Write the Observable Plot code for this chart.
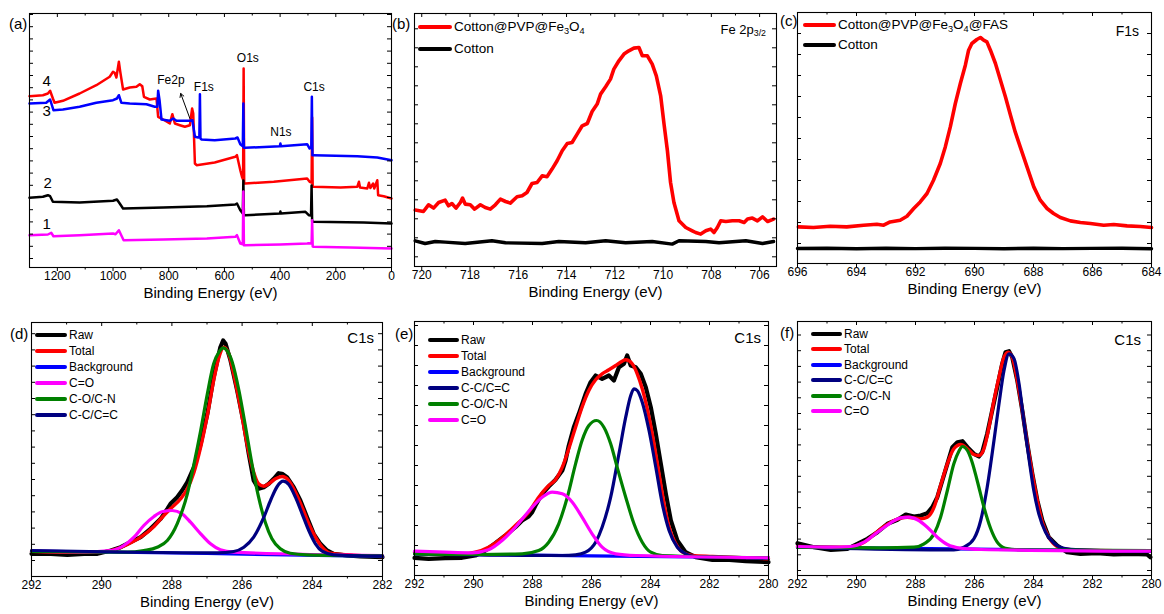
<!DOCTYPE html>
<html><head><meta charset="utf-8">
<script src="https://cdn.jsdelivr.net/npm/d3@7"></script>
<script src="https://cdn.jsdelivr.net/npm/@observablehq/plot@0.6"></script>
<style>
body{margin:0;background:#fff;}
#root{position:relative;width:1164px;height:614px;overflow:hidden;background:#fff;font-family:"Liberation Sans",Arial,Helvetica,sans-serif;color:#000;}
.lab{position:absolute;white-space:nowrap;line-height:1;transform:translateY(-50%);}
.sw{position:absolute;border-radius:2px;}
sub{font-size:0.68em;vertical-align:-0.3em;line-height:0;}
</style></head><body><div id="root"></div>
<script>
// ---------------- DATA ----------------
// (a) survey spectra: [binding energy eV, intensity a.u.]
const survey1 = [[1300,32.3],[1234,33],[1222,34.7],[1214,31.3],[1120,32.3],[1000,34],[991,33.3],[979,37.3],[962,27.3],[820,28],[663,29],[561,30.7],[555,32.3],[543,24],[534,23.3],[532,76],[530,22.3],[525,22.3],[400,23],[303,24],[297,24.3],[287,24],[285,47.3],[283,21],[279,20.7],[150,20],[0,19]];
const survey2 = [[1300,69.7],[1252,70.7],[1234,72.3],[1226,71.3],[1216,65.7],[1120,65],[1000,66.7],[986,68],[976,64],[964,59],[820,60],[663,61.3],[561,63],[555,64],[543,57.3],[534,54],[532,87],[530,52.3],[525,52.3],[401,54],[399,56],[397,54],[309,55.7],[297,52.3],[289,52],[287,82],[285,46],[279,45.7],[100,45],[0,44]];
const survey3 = [[1300,164],[1240,164.7],[1226,168],[1214,157.3],[1180,158],[1120,160.7],[1060,164.7],[1000,167.3],[986,169],[979,172.3],[970,164.7],[940,164],[880,163.3],[850,160.7],[841,160.7],[838,176.7],[833,167.3],[826,148],[796,146.7],[784,149],[772,146.7],[724,146.7],[715,147.3],[706,130.7],[694,130],[690,131],[688,173.3],[686,129],[682,128],[635,127.3],[561,129],[553,130],[543,123.3],[534,121.3],[532,164],[530,119.7],[525,119.7],[401,121.3],[399,124],[397,121.3],[303,123.3],[294,119],[288,120],[286,170.7],[284,112.3],[279,112.3],[123,111.3],[51,110],[0,107.3]];
const survey4 = [[1300,171.3],[1252,172.3],[1234,174],[1226,176.7],[1216,169],[1210,164.7],[1180,166.7],[1120,174],[1060,182.3],[1012,190.7],[1000,195.7],[994,194.7],[988,190],[979,205.7],[974,195.7],[964,178],[940,180],[916,180.7],[904,183.3],[895,181.3],[889,170.7],[868,168],[844,169],[838,150.7],[820,148],[796,144],[787,153.3],[778,144],[760,142.3],[742,140.7],[724,142.3],[716,159],[712,154],[706,104],[700,102.3],[635,105],[561,110.7],[555,112.3],[543,97.3],[537,90.7],[533,88],[531,199],[529,84],[525,84],[423,85.7],[303,89],[294,85.7],[287,85],[285,150],[283,80.7],[279,80.7],[183,80],[123,80.7],[117,85.7],[113,80],[87,79],[81,84.7],[76,79.5],[66,84],[62,79],[51,87.3],[48,72.3],[28,71.3],[0,69]];
const surveyNumLabels = ["4","3","2","1"];
const surveyNumE = [1238,1238,1235,1238];
const surveyNumH = [186,156,84,43];
const peakLabels = ["Fe2p","F1s","O1s","N1s","C1s"];
const peakE = [792,674,516,397,278];
const peakH = [187,180,209,135,180];
const arrowFrom = [724,149];
const arrowTo = [757,174];

// (b) Fe 2p3/2
const fe2pCoated = [[720.27,56.4],[719.93,55.0],[719.72,61.7],[719.51,58.4],[719.30,64.0],[719.03,66.4],[718.89,60.7],[718.75,63.0],[718.58,58.4],[718.40,64.0],[718.31,68.4],[718.20,62.4],[717.99,61.7],[717.81,57.4],[717.57,61.7],[717.37,59.0],[717.16,57.4],[716.95,61.7],[716.74,67.4],[716.53,65.0],[716.33,63.4],[716.05,69.7],[715.84,70.7],[715.64,74.0],[715.43,83.0],[715.22,84.0],[715.01,90.7],[714.81,89.7],[714.60,97.4],[714.39,105.7],[714.18,115.7],[713.97,123.0],[713.77,124.0],[713.56,132.4],[713.35,140.7],[713.14,143.0],[712.94,155.0],[712.73,162.4],[712.59,172.4],[712.38,179.7],[712.18,187.4],[712.04,197.4],[711.83,205.7],[711.62,212.4],[711.42,215.7],[711.21,218.4],[711.00,219.0],[710.86,210.7],[710.65,210.7],[710.45,202.4],[710.28,190.7],[710.10,170.7],[709.96,142.4],[709.82,115.7],[709.69,84.0],[709.55,64.0],[709.34,45.7],[709.06,39.0],[708.79,35.7],[708.65,34.0],[708.44,32.4],[708.23,35.7],[708.03,37.4],[707.89,34.0],[707.75,39.0],[707.61,45.7],[707.40,45.0],[707.13,45.7],[706.85,45.7],[706.64,44.0],[706.50,47.4],[706.30,48.4],[706.09,45.7],[705.88,49.7],[705.67,45.0],[705.42,47.4]];
const fe2pCotton = [[720.27,25.7],[719.86,23.0],[719.44,25.0],[719.03,24.4],[718.20,23.0],[717.09,25.7],[716.53,23.7],[715.01,23.0],[714.32,25.0],[713.21,23.7],[712.38,25.7],[711.55,23.7],[710.45,25.0],[709.62,22.4],[709.34,25.7],[708.23,25.0],[707.68,23.7],[706.57,25.7],[705.88,23.0],[705.42,25.0]];
const legendB = ["Cotton@PVP@Fe<sub>3</sub>O<sub>4</sub>","Cotton"];

// (c) F1s
const f1sCoated = [[695.97,36.6],[695.46,36.0],[694.89,37.3],[694.33,36.6],[693.76,38.3],[693.31,39.3],[693.08,38.3],[692.86,41.6],[692.52,43.3],[692.29,47.3],[692.06,55.0],[691.84,61.6],[691.61,70.0],[691.39,83.3],[691.16,100.0],[690.99,116.6],[690.82,136.6],[690.65,160.0],[690.48,180.0],[690.31,198.3],[690.20,213.3],[690.09,220.0],[689.92,224.0],[689.80,226.0],[689.69,223.3],[689.58,221.6],[689.46,213.3],[689.29,200.0],[689.12,183.3],[688.95,166.6],[688.78,148.3],[688.62,131.6],[688.45,116.6],[688.22,96.6],[687.99,76.6],[687.77,63.3],[687.54,55.0],[687.32,50.0],[687.09,46.0],[686.75,42.6],[686.41,41.0],[686.07,40.0],[685.62,38.3],[685.28,39.0],[684.83,37.6],[684.38,37.0],[684.00,36.0]];
const f1sCotton = [[696,15.0],[695,15.3],[694,14.8],[693,15.2],[692,14.9],[691,15.3],[690,15.1],[689,14.8],[688,15.2],[687,14.9],[686,15.1],[685,15.3],[684,14.8]];
const legendC = ["Cotton@PVP@Fe<sub>3</sub>O<sub>4</sub>@FAS","Cotton"];

// (d) C1s cotton
const dRaw = [[292.00,22.7],[291.45,22.7],[290.98,21.7],[290.50,22.7],[290.12,22.7],[289.74,26.0],[289.46,29.3],[289.18,34.3],[288.89,39.3],[288.61,47.7],[288.32,57.7],[288.13,67.7],[288.04,72.7],[287.85,79.3],[287.71,86.0],[287.56,94.3],[287.37,109.3],[287.18,132.7],[286.99,162.7],[286.81,199.3],[286.62,229.3],[286.54,236.0],[286.47,232.7],[286.33,216.0],[286.14,186.0],[285.95,152.7],[285.81,122.7],[285.67,96.0],[285.53,87.7],[285.38,89.3],[285.24,92.7],[285.10,97.7],[284.96,103.3],[284.86,102.7],[284.72,99.3],[284.53,89.3],[284.34,76.0],[284.15,59.3],[283.96,42.7],[283.77,32.7],[283.58,26.0],[283.39,22.7],[283.01,21.0],[282.63,20.0],[282.00,19.3]];
const dTotal = [[292.00,25.3],[290.98,24.3],[290.12,24.3],[289.65,26.7],[289.27,32.0],[288.89,39.3],[288.51,50.0],[288.23,61.0],[288.04,67.7],[287.75,77.7],[287.56,87.7],[287.37,104.3],[287.18,129.3],[286.99,161.0],[286.81,196.0],[286.66,219.3],[286.52,229.3],[286.38,222.7],[286.24,202.7],[286.05,169.3],[285.86,132.7],[285.67,104.3],[285.53,92.7],[285.38,90.3],[285.24,92.7],[285.05,97.7],[284.86,100.0],[284.67,96.0],[284.48,84.3],[284.29,69.3],[284.10,52.7],[283.91,39.3],[283.72,29.3],[283.49,23.3],[283.01,21.7],[282.00,20.0]];
const dBackground = [[292.00,25.5],[287.00,23.0],[282.00,20.0]];
const dCO = [[292.00,25.3],[290.50,24.7],[289.74,26.0],[289.37,31.0],[289.08,39.3],[288.80,51.0],[288.51,60.0],[288.28,64.7],[287.99,66.0],[287.71,62.7],[287.47,54.3],[287.18,42.7],[286.90,32.7],[286.62,26.7],[286.24,24.3],[282.00,21.0]];
const dCOCN = [[292.00,25.0],[289.27,24.3],[288.80,26.0],[288.42,29.3],[288.13,36.0],[287.85,52.7],[287.56,82.7],[287.37,112.7],[287.18,146.0],[286.99,182.7],[286.81,212.7],[286.66,224.3],[286.54,228.7],[286.43,226.0],[286.28,214.3],[286.09,186.0],[285.90,149.3],[285.72,112.7],[285.53,79.3],[285.34,54.3],[285.15,37.7],[284.91,27.7],[284.63,23.3],[284.15,21.7],[282.00,20.7]];
const dCC = [[292.00,26.0],[286.71,23.7],[286.24,25.0],[285.95,29.3],[285.67,39.3],[285.38,59.3],[285.19,76.0],[285.00,90.0],[284.83,95.3],[284.67,92.0],[284.48,79.3],[284.29,62.7],[284.10,46.0],[283.91,32.7],[283.72,25.3],[283.39,21.7],[282.00,20.3]];
const legendD = ["Raw","Total","Background","C=O","C-O/C-N","C-C/C=C"];

// (e) C1s cotton@PVP@Fe3O4
const eRaw = [[292.00,17.7],[291.52,16.7],[290.96,17.3],[290.39,17.7],[289.94,20.0],[289.60,25.0],[289.26,32.3],[288.92,40.0],[288.58,48.3],[288.35,55.0],[288.13,59.0],[288.01,63.3],[287.90,70.0],[287.67,81.7],[287.45,89.0],[287.22,95.7],[286.99,105.0],[286.88,115.0],[286.77,130.0],[286.60,148.3],[286.43,161.7],[286.20,181.7],[286.03,193.3],[285.86,200.0],[285.64,196.7],[285.41,200.0],[285.24,195.0],[285.07,208.3],[284.90,211.7],[284.79,220.0],[284.67,210.0],[284.50,208.3],[284.33,201.7],[284.16,188.3],[283.99,168.3],[283.82,141.7],[283.65,111.7],[283.48,81.7],[283.31,55.0],[283.09,35.0],[282.81,23.3],[282.47,18.3],[281.90,15.7],[281.33,15.7],[280.77,14.3],[280.00,13.3]];
const eTotal = [[292.00,23.3],[290.39,21.7],[289.94,23.3],[289.49,28.3],[289.03,37.7],[288.58,50.0],[288.13,63.3],[287.79,78.3],[287.45,90.0],[287.22,95.7],[286.99,108.3],[286.77,126.7],[286.54,148.3],[286.32,168.3],[286.09,185.0],[285.86,195.7],[285.64,201.7],[285.41,205.7],[285.18,210.0],[284.96,214.3],[284.84,215.7],[284.62,211.7],[284.45,201.7],[284.28,186.7],[284.05,158.3],[283.88,131.7],[283.71,101.7],[283.54,71.7],[283.37,48.3],[283.14,31.7],[282.92,23.3],[282.58,20.0],[281.90,19.0],[280.00,16.7]];
const eBackground = [[292.00,21.7],[286.00,19.7],[280.00,17.7]];
const eCC = [[292.00,21.7],[286.99,20.0],[286.54,20.7],[286.20,23.3],[285.86,33.3],[285.64,48.3],[285.35,78.3],[285.07,121.7],[284.84,158.3],[284.67,180.0],[284.56,186.7],[284.45,185.0],[284.28,173.3],[284.05,145.0],[283.82,108.3],[283.60,71.7],[283.37,45.0],[283.09,28.3],[282.81,21.7],[282.47,19.0],[280.00,17.0]];
const eCOCN = [[292.00,21.7],[289.83,21.0],[288.35,21.7],[287.79,25.0],[287.45,33.3],[287.11,51.7],[286.82,78.3],[286.54,111.7],[286.32,135.0],[286.09,150.0],[285.83,155.0],[285.58,148.3],[285.35,131.7],[285.13,108.3],[284.84,78.3],[284.56,51.7],[284.28,33.3],[283.99,23.3],[283.60,20.0],[280.00,17.7]];
const eCO = [[292.00,24.3],[290.96,23.3],[290.05,22.7],[289.49,25.7],[289.03,35.0],[288.58,48.3],[288.13,64.3],[287.67,78.3],[287.33,83.3],[286.99,81.7],[286.65,73.3],[286.32,58.3],[285.98,41.7],[285.64,28.3],[285.18,21.7],[284.50,20.0],[280.00,17.7]];
const legendE = ["Raw","Total","Background","C-C/C=C","C-O/C-N","C=O"];

// (f) C1s cotton@PVP@Fe3O4@FAS
const fRaw = [[292.00,32.3],[291.44,28.3],[290.87,25.7],[290.31,26.7],[289.97,31.7],[289.63,36.7],[289.29,43.3],[288.95,51.7],[288.61,55.7],[288.33,61.0],[288.05,59.0],[287.82,60.0],[287.60,62.3],[287.43,68.3],[287.26,78.3],[287.09,95.0],[286.92,111.7],[286.75,128.3],[286.58,133.3],[286.41,134.3],[286.24,128.3],[286.02,121.7],[285.85,119.0],[285.74,123.3],[285.57,141.7],[285.40,165.0],[285.23,188.3],[285.06,211.7],[284.95,223.3],[284.83,224.3],[284.72,218.3],[284.55,195.0],[284.38,165.0],[284.21,131.7],[284.04,101.7],[283.87,75.0],[283.70,55.0],[283.48,38.3],[283.20,30.0],[282.86,23.3],[282.41,21.7],[281.84,22.3],[281.28,21.0],[280.71,21.7],[280.15,21.0],[280.04,18.3]];
const fTotal = [[292.00,29.0],[290.31,28.3],[289.74,33.3],[289.18,46.7],[288.73,55.0],[288.28,58.3],[287.82,56.7],[287.60,58.3],[287.37,68.3],[287.15,90.0],[286.92,111.7],[286.70,126.7],[286.47,131.0],[286.24,126.7],[286.02,121.0],[285.85,120.0],[285.68,126.7],[285.51,148.3],[285.34,175.0],[285.17,198.3],[285.00,218.3],[284.86,223.3],[284.72,218.3],[284.55,195.0],[284.38,165.0],[284.21,131.7],[284.04,101.7],[283.87,75.0],[283.70,53.3],[283.48,38.3],[283.20,29.0],[282.75,25.7],[280.04,24.3]];
const fBackground = [[292.00,28.3],[286.00,26.3],[280.04,24.3]];
const fCC = [[292.00,28.3],[287.49,25.7],[286.70,25.7],[286.36,28.3],[286.02,36.7],[285.79,55.0],[285.57,88.3],[285.34,135.0],[285.17,171.7],[285.00,205.0],[284.83,221.7],[284.66,216.7],[284.49,191.7],[284.33,155.0],[284.16,118.3],[283.99,85.0],[283.82,61.7],[283.59,43.3],[283.31,32.3],[282.97,27.3],[282.41,25.7],[280.04,24.3]];
const fCOCN = [[292.00,28.3],[289.18,27.7],[288.05,28.3],[287.71,31.7],[287.37,41.7],[287.15,58.3],[286.92,85.0],[286.70,111.7],[286.53,124.3],[286.41,129.0],[286.24,125.0],[286.08,113.3],[285.91,95.0],[285.68,68.3],[285.45,46.7],[285.23,33.3],[284.95,27.3],[284.44,25.7],[280.04,25.0]];
const fCO = [[292.00,29.0],[290.87,28.3],[290.20,29.0],[289.74,33.3],[289.29,43.3],[288.84,52.7],[288.50,57.7],[288.22,58.3],[287.94,55.7],[287.60,48.3],[287.26,38.3],[286.92,31.0],[286.47,27.3],[285.79,26.0],[280.04,24.3]];
const legendF = ["Raw","Total","Background","C-C/C=C","C-O/C-N","C=O"];

const panelLetters = ["(a)","(b)","(c)","(d)","(e)","(f)"];
const xTitle = "Binding Energy (eV)";

// ---------------- RENDER ----------------
const FONT = '"Liberation Sans", Arial, Helvetica, sans-serif';
const RED = "#ff0000", BLUE = "#0000ff", BLACK = "#000000", MAG = "#ff00ff", GREEN = "#008000", NAVY = "#000080";
const root = document.getElementById("root");

function makePanel(cfg) {
  const {left, top, fw, fh, xDomain, majors, minors, yTicks, lines, extra = []} = cfg;
  const mL = 40, mR = 14, mT = 14, mB = 50;
  const marks = [];
  for (const L of lines) {
    marks.push(Plot.line(L.data, {x: d => d[0], y: d => d[1], stroke: L.color, strokeWidth: L.width,
      curve: L.curve || "linear", strokeLinejoin: "round", strokeLinecap: "round"}));
  }
  marks.push(...extra);
  marks.push(
    // inward ticks on left / right / top
    Plot.tickY(yTicks, {y: d => d, insetRight: fw - 4, stroke: "#000"}),
    Plot.tickY(yTicks, {y: d => d, insetLeft: fw - 4, stroke: "#000"}),
    Plot.tickX(majors, {x: d => d, insetBottom: fh - 4, stroke: "#000"}),
    Plot.tickX(minors, {x: d => d, insetBottom: fh - 2.5, stroke: "#000"}),
    // outward ticks on bottom
    Plot.tickX(majors, {x: d => d, insetTop: fh, insetBottom: -4, stroke: "#000"}),
    Plot.tickX(minors, {x: d => d, insetTop: fh, insetBottom: -2.5, stroke: "#000"}),
    Plot.axisX({ticks: majors, tickSize: 0, tickPadding: 4, tickFormat: d => String(d), fontSize: 12, label: null}),
    Plot.frame({stroke: "#000", strokeWidth: 1.1}),
    Plot.text([xTitle], {text: d => d, frameAnchor: "bottom", dy: 30.5, fontSize: 15})
  );
  const svg = Plot.plot({
    width: fw + mL + mR, height: fh + mT + mB,
    marginLeft: mL, marginRight: mR, marginTop: mT, marginBottom: mB,
    style: {fontFamily: FONT, fontSize: "12px", background: "transparent", overflow: "visible", color: "#000"},
    x: {domain: xDomain},
    y: {domain: [0, fh], axis: null},
    marks
  });
  svg.style.position = "absolute";
  svg.style.left = (left - mL) + "px";
  svg.style.top = (top - mT) + "px";
  root.appendChild(svg);
}

function label(html, x, cy, fs, extraStyle = "") {
  const d = document.createElement("div");
  d.className = "lab";
  d.style.cssText = `left:${x}px;top:${cy}px;font-size:${fs}px;${extraStyle}`;
  d.innerHTML = html;
  root.appendChild(d);
  return d;
}
function rightLabel(html, xr, cy, fs) {
  const d = label(html, 0, cy, fs);
  d.style.left = "auto";
  d.style.right = (1164 - xr) + "px";
}
function legend(items, colors, x, y0, dy, sw, fs, lw) {
  items.forEach((t, i) => {
    const cy = y0 + i * dy;
    const s = document.createElement("div");
    s.className = "sw";
    s.style.cssText = `left:${x}px;top:${cy - lw / 2}px;width:${sw}px;height:${lw}px;background:${colors[i]};`;
    root.appendChild(s);
    label(t, x + sw + 2, cy, fs);
  });
}

// (a)
makePanel({
  left: 29, top: 13, fw: 362, fh: 254, xDomain: [1300, 0],
  majors: [1200, 1000, 800, 600, 400, 200, 0], minors: [1100, 900, 700, 500, 300, 100],
  yTicks: d3.range(9, 254, 12.2),
  lines: [
    {data: survey4, color: RED, width: 2.5},
    {data: survey3, color: BLUE, width: 2.5},
    {data: survey2, color: BLACK, width: 2.5},
    {data: survey1, color: MAG, width: 2.5}
  ],
  extra: [
    Plot.text(surveyNumLabels, {x: (d, i) => surveyNumE[i], y: (d, i) => surveyNumH[i], text: d => d, fontSize: 15}),
    Plot.text(peakLabels, {x: (d, i) => peakE[i], y: (d, i) => peakH[i], text: d => d, fontSize: 12}),
    Plot.arrow([0], {x1: () => arrowFrom[0], y1: () => arrowFrom[1], x2: () => arrowTo[0], y2: () => arrowTo[1],
      stroke: "#000", strokeWidth: 1, headLength: 6})
  ]
});
// (b)
makePanel({
  left: 414, top: 13, fw: 362, fh: 253, xDomain: [720.3, 705.3],
  majors: [720, 718, 716, 714, 712, 710, 708, 706], minors: [719, 717, 715, 713, 711, 709, 707],
  yTicks: d3.range(9.7, 253, 19),
  lines: [
    {data: fe2pCotton, color: BLACK, width: 3.4},
    {data: fe2pCoated, color: RED, width: 3.6}
  ]
});
// (c)
makePanel({
  left: 797, top: 12, fw: 354, fh: 251, xDomain: [696, 684],
  majors: [696, 694, 692, 690, 688, 686, 684], minors: [695, 693, 691, 689, 687, 685],
  yTicks: d3.range(20, 245, 21),
  lines: [
    {data: f1sCotton, color: BLACK, width: 3.4},
    {data: f1sCoated, color: RED, width: 3.6}
  ]
});
// (d)
makePanel({
  left: 31, top: 322, fw: 351, fh: 254, xDomain: [292, 282],
  majors: [292, 290, 288, 286, 284, 282], minors: [291, 289, 287, 285, 283],
  yTicks: d3.range(16, 254, 16.2),
  lines: [
    {data: dRaw, color: BLACK, width: 4.2},
    {data: dTotal, color: RED, width: 3.4, curve: "monotone-x"},
    {data: dBackground, color: BLUE, width: 3.2},
    {data: dCO, color: MAG, width: 3.2, curve: "monotone-x"},
    {data: dCOCN, color: GREEN, width: 3.2, curve: "monotone-x"},
    {data: dCC, color: NAVY, width: 3.2, curve: "monotone-x"}
  ]
});
// (e)
makePanel({
  left: 414, top: 321, fw: 354, fh: 254, xDomain: [292, 280],
  majors: [292, 290, 288, 286, 284, 282, 280], minors: [291, 289, 287, 285, 283, 281],
  yTicks: d3.range(10, 254, 20),
  lines: [
    {data: eRaw, color: BLACK, width: 4.2},
    {data: eTotal, color: RED, width: 3.4, curve: "monotone-x"},
    {data: eBackground, color: BLUE, width: 3.2},
    {data: eCC, color: NAVY, width: 3.2, curve: "monotone-x"},
    {data: eCOCN, color: GREEN, width: 3.2, curve: "monotone-x"},
    {data: eCO, color: MAG, width: 3.2, curve: "monotone-x"}
  ]
});
// (f)
makePanel({
  left: 797, top: 321, fw: 354, fh: 254, xDomain: [292, 280],
  majors: [292, 290, 288, 286, 284, 282, 280], minors: [291, 289, 287, 285, 283, 281],
  yTicks: d3.range(5, 254, 15.7),
  lines: [
    {data: fRaw, color: BLACK, width: 4.2},
    {data: fTotal, color: RED, width: 3.4, curve: "monotone-x"},
    {data: fBackground, color: BLUE, width: 3.2},
    {data: fCC, color: NAVY, width: 3.2, curve: "monotone-x"},
    {data: fCOCN, color: GREEN, width: 3.2, curve: "monotone-x"},
    {data: fCO, color: MAG, width: 3.2, curve: "monotone-x"}
  ]
});

// panel letters
const letterPos = [[9, 23], [392, 23], [780, 20], [10, 333], [395, 333], [780, 332]];
panelLetters.forEach((t, i) => label(t, letterPos[i][0], letterPos[i][1], 15));

// legends
legend(legendB, [RED, BLACK], 418, 27, 21.6, 34, 13.5, 4);
legend(legendC, [RED, BLACK], 803, 24.5, 20.7, 33, 13.5, 4);
legend(legendD, [BLACK, RED, BLUE, MAG, GREEN, NAVY], 35, 335, 16, 32, 12, 4);
legend(legendE, [BLACK, RED, BLUE, NAVY, GREEN, MAG], 428, 339.5, 16, 31, 12, 4);
legend(legendF, [BLACK, RED, BLUE, NAVY, GREEN, MAG], 811, 333.5, 15.5, 31, 12, 4);

// panel titles
rightLabel("Fe 2p<sub>3/2</sub>", 766, 29, 13);
rightLabel("F1s", 1139, 31, 14);
rightLabel("C1s", 374, 337, 15);
rightLabel("C1s", 761, 337, 15);
rightLabel("C1s", 1141, 339, 15);
</script></body></html>
